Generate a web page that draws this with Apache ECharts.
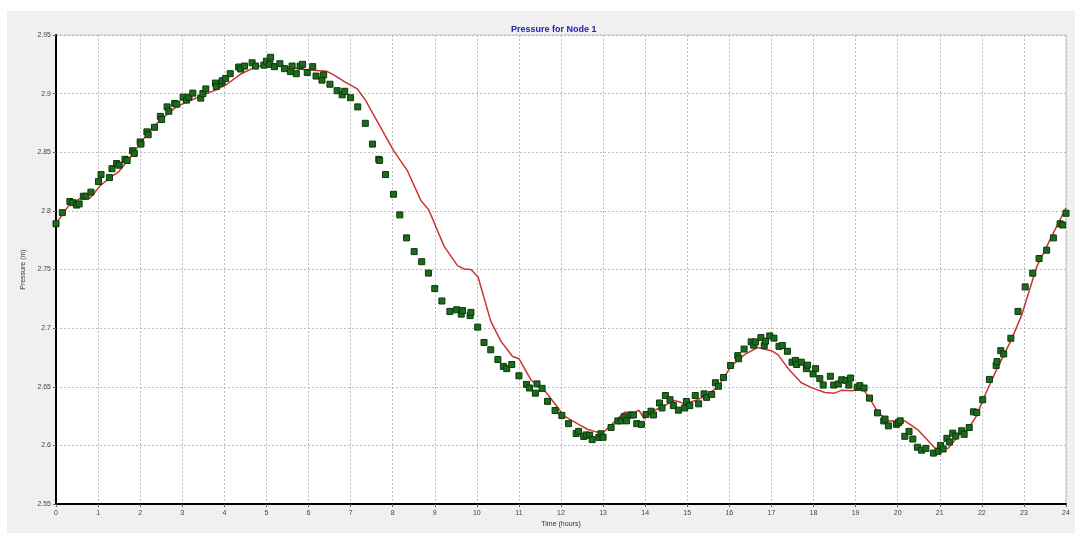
<!DOCTYPE html>
<html>
<head>
<meta charset="utf-8">
<script src="https://cdn.jsdelivr.net/npm/echarts@6/dist/echarts.min.js"></script>
<style>
html,body{margin:0;padding:0;background:#fff;}
#c{width:1075px;height:533px;}
</style>
</head>
<body>
<div id="c"></div>
<script>
const titleText = 'Pressure for Node 1';
const xAxisName = 'Time (hours)';
const yAxisName = 'Pressure (m)';

// Simulated pressure (red line)
const lineHours = [0,0.33,0.57,0.81,1.05,1.29,1.48,1.76,2.04,2.28,2.56,2.87,3.19,3.51,3.79,4.06,4.38,4.62,4.86,5.17,5.5,5.8,6.1,6.44,6.6,6.88,7.16,7.36,7.55,8.03,8.35,8.67,8.86,9.22,9.54,9.7,9.86,10.03,10.33,10.57,10.85,11.0,11.29,11.6,11.84,12.08,12.44,12.63,12.83,13.0,13.51,13.74,13.85,13.98,14.18,14.42,14.7,14.94,15.25,15.49,15.73,16.05,16.37,16.68,16.84,17.0,17.16,17.4,17.71,17.95,18.27,18.5,18.66,18.9,19.14,19.2,19.33,19.54,19.78,20.17,20.49,20.89,21.0,21.2,21.44,21.67,21.87,22.06,22.38,22.69,22.95,23.3,23.74,24.0];
const lineValues = [2.789,2.806,2.8105,2.811,2.8215,2.8285,2.833,2.8455,2.8595,2.8705,2.880,2.889,2.894,2.899,2.903,2.908,2.9165,2.9207,2.924,2.9255,2.923,2.921,2.920,2.919,2.916,2.9096,2.904,2.894,2.8817,2.851,2.8343,2.809,2.8008,2.770,2.7533,2.7505,2.750,2.7436,2.706,2.689,2.6758,2.674,2.6557,2.6473,2.6362,2.625,2.6175,2.6138,2.6116,2.611,2.6283,2.628,2.630,2.6228,2.6292,2.6334,2.6384,2.6357,2.639,2.6435,2.650,2.668,2.6777,2.6836,2.682,2.6808,2.6772,2.6655,2.6535,2.6493,2.6452,2.6446,2.647,2.6466,2.648,2.647,2.6404,2.6278,2.6209,2.6209,2.613,2.5977,2.597,2.5977,2.6083,2.6139,2.625,2.6418,2.667,2.6892,2.7115,2.752,2.784,2.8026];

// Observed pressure (green squares)
const markerHours = [0,0.15,0.33,0.4,0.49,0.55,0.65,0.71,0.83,1.01,1.07,1.27,1.33,1.44,1.5,1.64,1.69,1.82,1.86,2.0,2.02,2.16,2.19,2.34,2.48,2.51,2.64,2.68,2.82,2.87,3.02,3.1,3.16,3.25,3.44,3.49,3.56,3.79,3.81,3.93,3.95,4.03,4.14,4.34,4.39,4.48,4.66,4.74,4.94,5.0,5.08,5.1,5.19,5.32,5.43,5.57,5.61,5.71,5.8,5.86,5.97,6.1,6.18,6.32,6.36,6.51,6.68,6.8,6.86,7.0,7.17,7.35,7.52,7.67,7.69,7.83,8.02,8.17,8.33,8.51,8.69,8.85,9.0,9.17,9.36,9.52,9.63,9.66,9.84,9.86,10.02,10.17,10.33,10.5,10.63,10.71,10.83,11.0,11.18,11.25,11.39,11.43,11.55,11.68,11.86,12.02,12.18,12.36,12.42,12.54,12.6,12.68,12.74,12.9,12.95,13.0,13.19,13.35,13.43,13.5,13.56,13.66,13.72,13.8,13.91,14.02,14.14,14.2,14.34,14.4,14.48,14.59,14.67,14.79,14.94,14.98,15.06,15.19,15.27,15.4,15.46,15.58,15.67,15.74,15.86,16.03,16.2,16.22,16.35,16.52,16.58,16.62,16.75,16.83,16.86,16.96,17.06,17.18,17.26,17.38,17.49,17.57,17.6,17.71,17.83,17.86,17.99,18.05,18.15,18.23,18.4,18.48,18.59,18.67,18.77,18.84,18.88,19.04,19.1,19.2,19.33,19.52,19.67,19.7,19.78,19.97,20.02,20.06,20.17,20.27,20.36,20.47,20.57,20.67,20.85,20.96,21.02,21.08,21.17,21.23,21.31,21.38,21.52,21.58,21.7,21.8,21.88,22.02,22.18,22.34,22.36,22.45,22.52,22.69,22.86,23.03,23.21,23.36,23.54,23.7,23.86,23.92,24.0];
const markerValues = [2.789,2.7985,2.808,2.807,2.805,2.806,2.8125,2.8125,2.816,2.825,2.831,2.8284,2.836,2.8404,2.839,2.844,2.843,2.8513,2.849,2.8588,2.857,2.8674,2.865,2.8713,2.8806,2.878,2.8887,2.885,2.8917,2.891,2.897,2.8945,2.897,2.9004,2.8962,2.900,2.904,2.909,2.906,2.909,2.911,2.913,2.917,2.9227,2.921,2.9235,2.9263,2.9235,2.9243,2.9277,2.925,2.931,2.923,2.9255,2.9213,2.9188,2.9235,2.917,2.9235,2.925,2.918,2.923,2.915,2.9115,2.916,2.908,2.9025,2.899,2.902,2.8965,2.8887,2.8747,2.857,2.844,2.843,2.831,2.8142,2.7966,2.777,2.7653,2.7567,2.747,2.7338,2.7232,2.7143,2.7157,2.712,2.715,2.7107,2.7135,2.7009,2.6878,2.6816,2.6733,2.6674,2.6655,2.669,2.6594,2.6521,2.649,2.6446,2.6525,2.6487,2.6376,2.6298,2.6256,2.6186,2.6102,2.612,2.6077,2.609,2.6087,2.605,2.6069,2.610,2.607,2.6153,2.6209,2.621,2.6245,2.621,2.626,2.626,2.6186,2.618,2.6264,2.6292,2.626,2.6362,2.632,2.6426,2.639,2.634,2.6301,2.632,2.6375,2.634,2.6426,2.6355,2.644,2.641,2.6435,2.6535,2.6505,2.658,2.6682,2.6766,2.674,2.6822,2.6883,2.6855,2.6883,2.692,2.6852,2.689,2.6934,2.6915,2.6845,2.6852,2.6803,2.671,2.6725,2.669,2.671,2.6655,2.6685,2.661,2.6655,2.657,2.6515,2.659,2.6515,2.6524,2.656,2.6555,2.6515,2.6575,2.6496,2.651,2.649,2.6404,2.6278,2.6209,2.6225,2.6167,2.618,2.6195,2.621,2.6078,2.612,2.6055,2.5985,2.596,2.5975,2.5935,2.595,2.600,2.597,2.6061,2.603,2.6105,2.608,2.6125,2.6095,2.6153,2.6287,2.628,2.639,2.6563,2.6682,2.6715,2.6808,2.678,2.6914,2.7143,2.7352,2.7469,2.7594,2.7665,2.777,2.789,2.788,2.798];

const lineData = lineHours.map((h, i) => [h, lineValues[i]]);
const markerData = markerHours.map((h, i) => [h, markerValues[i]]);

const chart = echarts.init(document.getElementById('c'), null, {renderer: 'canvas'});
chart.setOption({
  animation: false,
  backgroundColor: '#ffffff',
  textStyle: {fontFamily: 'Liberation Sans, Arial, sans-serif'},
  graphic: [{
    type: 'rect', z: -10, silent: true,
    shape: {x: 7, y: 11, width: 1068, height: 522},
    style: {fill: '#f0f0f0'}
  }],
  title: {
    text: titleText,
    left: 506, top: 20,
    textStyle: {color: '#2323b4', fontSize: 9, fontWeight: 'bold', fontFamily: 'Liberation Sans, Arial, sans-serif'}
  },
  grid: {
    left: 56, right: 9, top: 35, bottom: 20,
    show: true, backgroundColor: '#ffffff', borderColor: '#c8c8c8', borderWidth: 1
  },
  xAxis: {
    type: 'value', min: 0, max: 24, interval: 1,
    name: xAxisName, nameLocation: 'middle', nameGap: 14,
    nameTextStyle: {fontSize: 7, color: '#333'},
    axisLine: {show: true, onZero: false, lineStyle: {color: '#000', width: 2}},
    axisTick: {show: true, length: 3, lineStyle: {color: '#666'}},
    axisLabel: {fontSize: 7, color: '#444', margin: 5},
    splitLine: {show: true, lineStyle: {color: '#bcbcbc', type: [2, 2], width: 1}}
  },
  yAxis: {
    type: 'value', min: 2.55, max: 2.95, interval: 0.05,
    name: yAxisName, nameLocation: 'middle', nameGap: 23, nameRotate: 90,
    nameTextStyle: {fontSize: 7, color: '#333'},
    axisLine: {show: true, onZero: false, lineStyle: {color: '#000', width: 2}},
    axisTick: {show: true, length: 3, lineStyle: {color: '#666'}},
    axisLabel: {fontSize: 7, color: '#444', margin: 5},
    splitLine: {show: true, lineStyle: {color: '#bcbcbc', type: [2, 2], width: 1}}
  },
  series: [
    {
      type: 'line', data: lineData, showSymbol: false, smooth: false,
      lineStyle: {color: '#cc3333', width: 1.5}, z: 2
    },
    {
      type: 'scatter', data: markerData, symbol: 'rect', symbolSize: 6,
      itemStyle: {color: '#1d6a1d', borderColor: '#0b3a0b', borderWidth: 1, opacity: 1}, z: 3
    }
  ]
});
</script>
</body>
</html>
